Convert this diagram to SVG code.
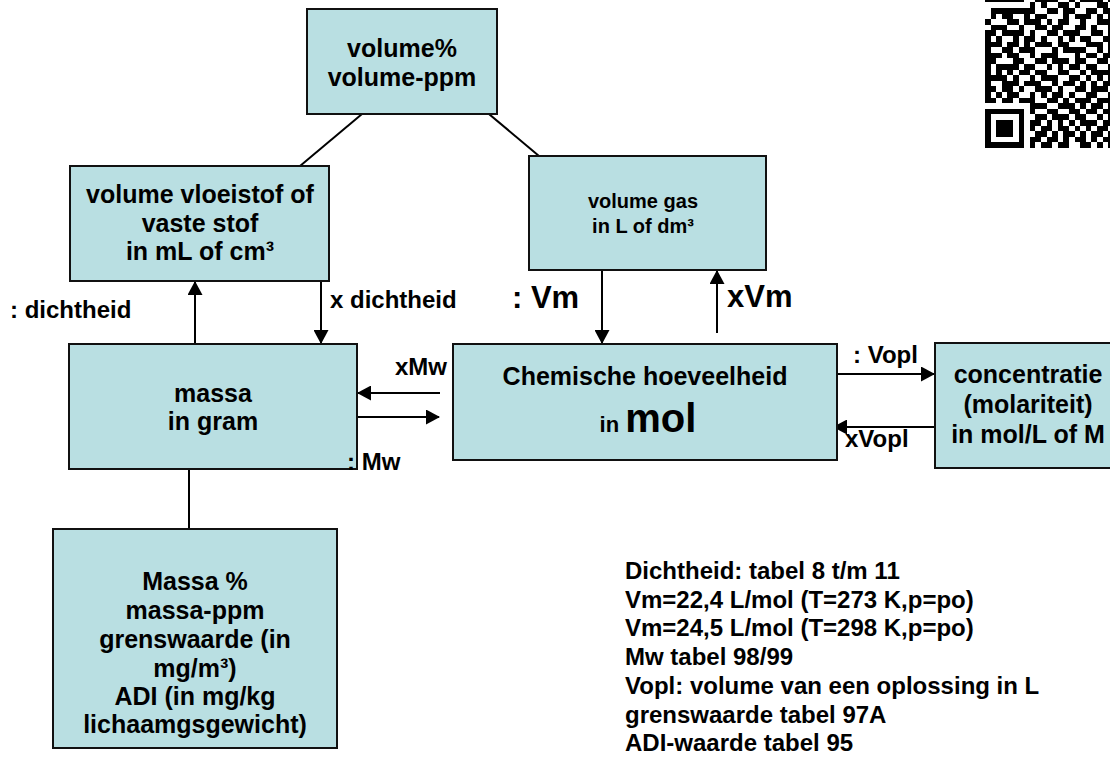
<svg xmlns="http://www.w3.org/2000/svg" width="1110" height="757" viewBox="0 0 1110 757">
<style>
.box{fill:#b9dfe2;stroke:#111;stroke-width:2}
.t{font-family:"Liberation Sans",Arial,sans-serif;font-weight:bold;fill:#000}
.c{text-anchor:middle;font-size:25px}
.lbl{font-size:24px}
.big{font-size:31px}
.ln{stroke:#000;stroke-width:2;fill:none}
.ar{stroke:#000;stroke-width:2;fill:none;marker-end:url(#ah)}
.qr path{stroke:#000;stroke-width:1;fill:none}
</style>
<defs>
<marker id="ah" viewBox="0 0 14 15" refX="13" refY="7.5" markerWidth="14" markerHeight="15" markerUnits="userSpaceOnUse" orient="auto">
<path d="M0,0 L14,7.5 L0,15 z" fill="#000"/>
</marker>
</defs>
<rect width="1110" height="757" fill="#fff"/>

<g id="qr" class="qr" transform="translate(985,-3.2) scale(5.6)" shape-rendering="crispEdges">
<path d="M0 0.5h23" stroke-dasharray="7 2 4 2 1 1 4 1 1 10"/>
<path d="M0 1.5h23" stroke-dasharray="0 8 1 1 1 2 2 1 1 3 2 1"/>
<path d="M0 2.5h23" stroke-dasharray="0 1 8 2 2 1 2 2 2 1 2 10"/>
<path d="M0 3.5h23" stroke-dasharray="0 1 1 1 2 2 1 1 2 3 1 1 3 1 1 1 1 10"/>
<path d="M0 4.5h23" stroke-dasharray="1 3 2 1 3 1 1 1 2 2 1 2 3 10"/>
<path d="M0 5.5h23" stroke-dasharray="0 1 3 2 1 2 2 1 2 2 2 1 1 2 1 10"/>
<path d="M0 6.5h23" stroke-dasharray="2 1 4 1 1 2 2 1 3 2 2 1 1 10"/>
<path d="M0 7.5h23" stroke-dasharray="1 1 1 2 1 1 2 1 1 2 1 1 1 1 2 2 2 10"/>
<path d="M0 8.5h23" stroke-dasharray="3 1 2 1 1 1 3 1 2 3 3 1 1 10"/>
<path d="M0 9.5h23" stroke-dasharray="1 2 2 1 3 3 1 1 4 2 1 1 1 10"/>
<path d="M0 10.5h23" stroke-dasharray="3 1 2 2 1 1 3 3 1 1 2 1 2 10"/>
<path d="M0 11.5h23" stroke-dasharray="2 3 2 2 2 1 3 1 2 2 2 1"/>
<path d="M0 12.5h23" stroke-dasharray="1 1 4 1 2 2 1 1 1 1 2 1 2 2 1 10"/>
<path d="M0 13.5h23" stroke-dasharray="1 1 1 1 1 1 2 1 2 2 2 2 1 1 4 10"/>
<path d="M0 14.5h23" stroke-dasharray="4 1 1 2 1 1 3 2 2 1 1 1 1 1 1 10"/>
<path d="M0 15.5h23" stroke-dasharray="1 2 3 1 3 2 1 1 2 1 1 1 1 1 2 10"/>
<path d="M0 16.5h23" stroke-dasharray="2 1 2 1 1 2 3 1 1 2 2 1 3 1"/>
<path d="M0 17.5h23" stroke-dasharray="1 1 1 1 2 2 1 1 1 1 2 1 1 2 2 2 1 10"/>
<path d="M0 18.5h23" stroke-dasharray="2 1 2 1 3 2 2 1 1 1 3 1 3 10"/>
<path d="M0 19.5h23" stroke-dasharray="0 8 3 2 3 1 1 1 2 1 1 10"/>
<path d="M0 20.5h23" stroke-dasharray="7 1 1 2 2 2 2 1 2 1 2 10"/>
<path d="M0 21.5h23" stroke-dasharray="1 5 1 2 2 1 3 1 2 2 1 1 1 10"/>
<path d="M0 22.5h23" stroke-dasharray="1 1 3 1 1 1 2 1 1 1 1 1 1 1 3 1 2 10"/>
<path d="M0 23.5h23" stroke-dasharray="1 1 3 1 1 1 1 1 2 1 2 1 1 1 1 1 2 1"/>
<path d="M0 24.5h23" stroke-dasharray="1 1 3 1 1 2 2 1 1 1 2 1 1 1 2 1 1 10"/>
<path d="M0 25.5h23" stroke-dasharray="1 5 1 1 2 1 2 1 1 1 2 1 1 1 2 10"/>
<path d="M0 26.5h23" stroke-dasharray="7 1 1 1 2 1 2 2 2 1 1 1 1 10"/>
</g>

<g id="connectors">
<path class="ln" d="M362,114 L300,166"/>
<path class="ln" d="M477,104 L539,156"/>
<path class="ar" d="M195,344 L195,282"/>
<path class="ar" d="M321,281 L321,343"/>
<path class="ar" d="M440,393 L358,393"/>
<path class="ar" d="M357,417 L439,417"/>
<path class="ar" d="M602,270 L602,343"/>
<path class="ar" d="M717,333 L717,271"/>
<path class="ar" d="M832,374 L934,374"/>
<path class="ar" d="M935,427 L834,427"/>
<path class="ln" d="M189,465 L189,529"/>
</g>

<g id="n-volperc">
<rect class="box" x="307" y="9" width="190" height="105"/>
<text class="t c" x="402" y="57">volume%</text>
<text class="t c" x="402" y="86">volume-ppm</text>
</g>

<g id="n-volvloei">
<rect class="box" x="70" y="166" width="259" height="115"/>
<text class="t c" x="200" y="203">volume vloeistof of</text>
<text class="t c" x="200" y="232">vaste stof</text>
<text class="t c" x="200" y="260">in mL of cm³</text>
</g>

<g id="n-volgas">
<rect class="box" x="529" y="156" width="237" height="114"/>
<text class="t" x="643" y="208" text-anchor="middle" font-size="20">volume gas</text>
<text class="t" x="643" y="233" text-anchor="middle" font-size="20">in L of dm³</text>
</g>

<g id="n-massa">
<rect class="box" x="69" y="344" width="288" height="125"/>
<text class="t c" x="213" y="402">massa</text>
<text class="t c" x="213" y="430">in gram</text>
</g>

<g id="n-mol">
<rect class="box" x="453" y="344" width="384" height="116"/>
<text class="t c" x="645" y="385">Chemische hoeveelheid</text>
<text class="t" x="648" y="432" text-anchor="middle"><tspan font-size="22">in </tspan><tspan font-size="40">mol</tspan></text>
</g>

<g id="n-conc">
<rect class="box" x="935" y="343" width="185" height="125"/>
<text class="t c" x="1028" y="383">concentratie</text>
<text class="t c" x="1028" y="413">(molariteit)</text>
<text class="t c" x="1028" y="443">in mol/L of M</text>
</g>

<g id="n-massaperc">
<rect class="box" x="53" y="529" width="284" height="219"/>
<text class="t c" x="195" y="590">Massa %</text>
<text class="t c" x="195" y="619">massa-ppm</text>
<text class="t c" x="195" y="648">grenswaarde (in</text>
<text class="t c" x="195" y="677">mg/m³)</text>
<text class="t c" x="195" y="705">ADI (in mg/kg</text>
<text class="t c" x="195" y="733">lichaamgsgewicht)</text>
</g>

<g id="labels">
<text class="t lbl" x="10" y="318">: dichtheid</text>
<text class="t lbl" x="330" y="308">x dichtheid</text>
<text class="t big" x="512" y="308">: Vm</text>
<text class="t big" x="727" y="307">xVm</text>
<text class="t lbl" x="395" y="375">xMw</text>
<text class="t lbl" x="347" y="470">: Mw</text>
<text class="t lbl" x="853" y="363">: Vopl</text>
<text class="t lbl" x="845" y="447">xVopl</text>
</g>

<g id="notes">
<text class="t lbl" x="625" y="579">Dichtheid: tabel 8 t/m 11</text>
<text class="t lbl" x="625" y="607.7">Vm=22,4 L/mol (T=273 K,p=po)</text>
<text class="t lbl" x="625" y="636.4">Vm=24,5 L/mol (T=298 K,p=po)</text>
<text class="t lbl" x="625" y="665.1">Mw tabel 98/99</text>
<text class="t lbl" x="625" y="693.8">Vopl: volume van een oplossing in L</text>
<text class="t lbl" x="625" y="722.5">grenswaarde tabel 97A</text>
<text class="t lbl" x="625" y="751">ADI-waarde tabel 95</text>
</g>
</svg>
